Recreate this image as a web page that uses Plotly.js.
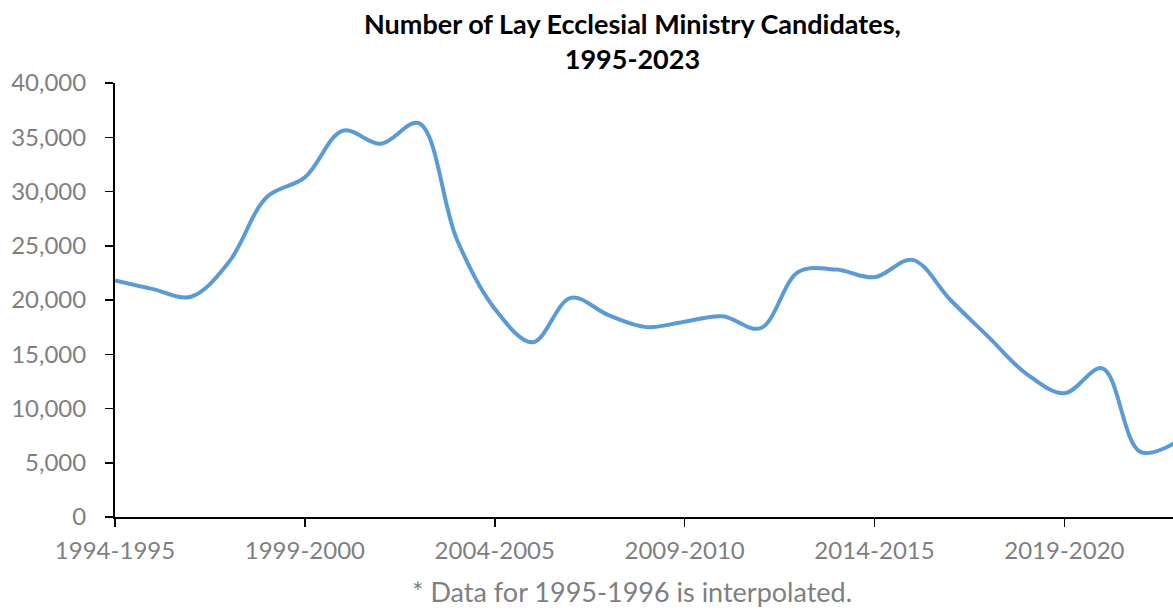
<!DOCTYPE html>
<html>
<head>
<meta charset="utf-8">
<script src="https://cdn.plot.ly/plotly-3.0.1.min.js"></script>
<style>html,body{margin:0;padding:0;background:#fff;}#chart{width:1173px;height:610px;}</style>
</head>
<body>
<div id="chart"></div>
<script>
const years = ["1994-1995","1995-1996","1996-1997","1997-1998","1998-1999","1999-2000","2000-2001","2001-2002","2002-2003","2003-2004","2004-2005","2005-2006","2006-2007","2007-2008","2008-2009","2009-2010","2010-2011","2011-2012","2012-2013","2013-2014","2014-2015","2015-2016","2016-2017","2017-2018","2018-2019","2019-2020","2020-2021","2021-2022","2022-2023"];
const candidates = [21800,21000,20300,23500,29500,31300,35600,34400,36300,25600,19200,16100,20200,18600,17500,18000,18500,17400,22600,22800,22100,23700,20000,16600,13200,11400,13700,6000,7000];
const xTickLabels = ["1994-1995","1999-2000","2004-2005","2009-2010","2014-2015","2019-2020"];
const yTickVals = [0,5000,10000,15000,20000,25000,30000,35000,40000];
const titleText = "Number of Lay Ecclesial Ministry Candidates,<br>1995-2023";
const footnote = "* Data for 1995-1996 is interpolated.";

const trace = {
  x: years, y: candidates, type: "scatter", mode: "lines",
  line: {color: "#5B9BD5", width: 4, shape: "spline", smoothing: 1},
  hoverinfo: "x+y"
};
const layout = {
  width: 1173, height: 610,
  margin: {l: 115, r: 0, t: 83, b: 93},
  paper_bgcolor: "#fff", plot_bgcolor: "#fff",
  showlegend: false,
  font: {family: "Lato, 'Open Sans', sans-serif", color: "#7f7f7f"},
  xaxis: {
    type: "category",
    range: [0, 27.86],
    tickmode: "array", tickvals: xTickLabels, ticktext: xTickLabels,
    showline: true, linecolor: "#000", linewidth: 2,
    ticks: "outside", ticklen: 8, tickwidth: 1.5, tickcolor: "#000",
    showgrid: false, zeroline: false,
    tickfont: {size: 24, color: "#7f7f7f"},
    ticklabelstandoff: 3
  },
  yaxis: {
    range: [0, 40000],
    tickmode: "array", tickvals: yTickVals,
    ticktext: yTickVals.map(v => v.toLocaleString("en-US")),
    showline: true, linecolor: "#000", linewidth: 2,
    ticks: "outside", ticklen: 8, tickwidth: 1.5, tickcolor: "#000",
    showgrid: false, zeroline: false,
    tickfont: {size: 24, color: "#7f7f7f"},
    ticklabelstandoff: 14
  },
  annotations: [
    {
      text: "<b>" + titleText + "</b>", xref: "paper", yref: "paper",
      x: 0.4887, y: 1.0968, xanchor: "center", yanchor: "middle",
      showarrow: false, align: "center",
      font: {family: "Lato, sans-serif", size: 27, color: "#000"}
    },
    {
      text: footnote, xref: "paper", yref: "paper",
      x: 0.4887, y: -0.1728, xanchor: "center", yanchor: "middle",
      showarrow: false, font: {size: 27, color: "#7f7f7f"}
    }
  ]
};
Plotly.newPlot("chart", [trace], layout, {displayModeBar: false, staticPlot: true});
</script>
</body>
</html>
